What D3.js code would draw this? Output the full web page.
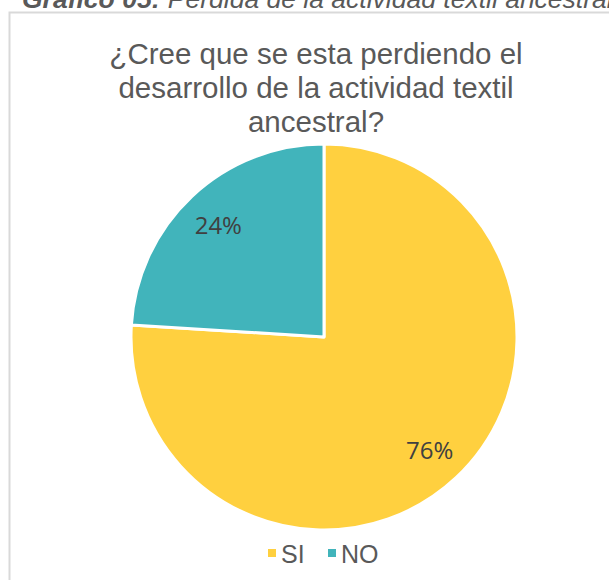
<!DOCTYPE html>
<html>
<head>
<meta charset="utf-8">
<script src="https://cdn.jsdelivr.net/npm/d3@7"></script>
<style>
  html, body { margin: 0; padding: 0; background: #fff; }
  svg { display: block; }
</style>
</head>
<body>
<svg id="chart" width="609" height="580"></svg>
<script>
// Survey answers
const categories = ["SI", "NO"];
const percents = [76, 24];
const colors = ["#FFD03F", "#41B4BB"];
const titleLines = ["¿Cree que se esta perdiendo el", "desarrollo de la actividad textil", "ancestral?"];

const svg = d3.select("#chart");
const W = 609, H = 580;

// Figure caption above the chart box
const cap = svg.append("text")
  .attr("x", 22).attr("y", 8)
  .attr("font-family", "Liberation Sans, Arial, sans-serif")
  .attr("font-size", 26.5)
  .attr("font-style", "italic")
  .attr("fill", "#595959");
cap.append("tspan").attr("font-weight", "bold").text("Gráfico 05:");
cap.append("tspan").text(" Pérdida de la actividad textil ancestral");

// Chart frame
svg.append("rect")
  .attr("x", 9.5).attr("y", 12.5)
  .attr("width", W + 20).attr("height", H + 20)
  .attr("fill", "none")
  .attr("stroke", "#D9D9D9")
  .attr("stroke-width", 2);

// Title
svg.append("text")
  .attr("text-anchor", "middle")
  .attr("font-family", "Liberation Sans, Arial, sans-serif")
  .attr("font-size", 29.5)
  .attr("fill", "#595959")
  .selectAll("tspan")
  .data(titleLines)
  .join("tspan")
  .attr("x", 316)
  .attr("y", (d, i) => 64 + i * 34)
  .text(d => d);

// Pie
const cx = 324, cy = 337, r = 193;
const data = categories.map((c, i) => ({ cat: c, value: percents[i], color: colors[i] }));
const pie = d3.pie().value(d => d.value).sort(null);
const arc = d3.arc().innerRadius(0).outerRadius(r);
const labelArc = d3.arc().innerRadius(r * 0.8).outerRadius(r * 0.8);

const g = svg.append("g").attr("transform", `translate(${cx},${cy})`);
const arcs = pie(data);
g.selectAll("path")
  .data(arcs)
  .join("path")
  .attr("d", arc)
  .attr("fill", d => d.data.color)
  .attr("stroke", "#fff")
  .attr("stroke-width", 3)
  .attr("stroke-linejoin", "round");

g.selectAll("text.lbl")
  .data(arcs)
  .join("text")
  .attr("class", "lbl")
  .attr("transform", d => `translate(${labelArc.centroid(d)})`)
  .attr("text-anchor", "middle")
  .attr("dominant-baseline", "central")
  .attr("font-family", "Open Sans, Noto Sans, sans-serif")
  .attr("font-size", 24)
  .attr("fill", "#404040")
  .text(d => d.data.value + "%");

// Legend
const legend = svg.append("g");
const legendX = [268, 328];
categories.forEach((c, i) => {
  const it = legend.append("g").attr("transform", `translate(${legendX[i]},553)`);
  it.append("rect").attr("x", 0).attr("y", -4).attr("width", 8).attr("height", 8).attr("fill", colors[i]);
  it.append("text")
    .attr("x", 13).attr("y", 1)
    .attr("dominant-baseline", "central")
    .attr("font-family", "Liberation Sans, Arial, sans-serif")
    .attr("font-size", 25)
    .attr("fill", "#595959")
    .text(c);
});
</script>
</body>
</html>
